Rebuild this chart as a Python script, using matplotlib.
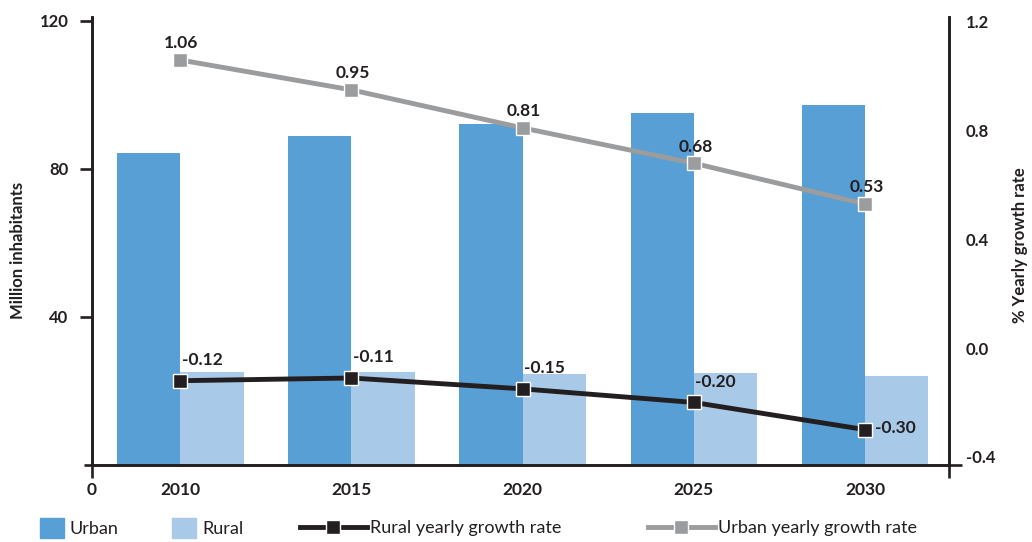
import numpy as np
import matplotlib.pyplot as plt
from matplotlib.lines import Line2D
from matplotlib.patches import Patch

plt.rcParams['font.family'] = ['Lato', 'DejaVu Sans']

years = ['2010', '2015', '2020', '2025', '2030']
urban = [84.3, 88.8, 92.0, 95.0, 97.3]
rural = [25.1, 25.0, 24.5, 24.8, 24.0]
urban_rate = [1.06, 0.95, 0.81, 0.68, 0.53]
rural_rate = [-0.12, -0.11, -0.15, -0.20, -0.30]

c_urban = '#589fd5'
c_rural = '#a8c9e7'
c_gray = '#9b9c9e'
c_dark = '#231f20'

fig = plt.figure(figsize=(10.32, 5.42), dpi=100)
ax = fig.add_axes([0.0891, 0.1421, 0.8305, 0.8265])
ax2 = ax.twinx()

x = np.arange(len(years))
w = 0.37
ax.bar(x - w / 2, urban, w, color=c_urban, zorder=2)
ax.bar(x + w / 2, rural, w, color=c_rural, zorder=2)

ax.set_xlim(-0.515, 4.49)
ax.set_ylim(0, 121)
ax2.set_ylim(-0.43, 1.218)

# spines
ax.spines['top'].set_visible(False)
ax2.spines['top'].set_visible(False)
for a in (ax, ax2):
    for s in ['left', 'right', 'bottom']:
        a.spines[s].set_color(c_dark)
        a.spines[s].set_linewidth(1.9)

# x axis: year labels, plus the "0" and the short stubs at both ends
ax.set_xticks(x)
ax.set_xticklabels(years, fontsize=12.5, fontweight='bold', color=c_dark)
ax.tick_params(axis='x', which='major', length=0, pad=12)
ax.set_xticks([-0.515, 4.49], minor=True)
ax.set_xticklabels(['0', ''], minor=True, fontsize=12.5, fontweight='bold', color=c_dark)
ax.tick_params(axis='x', which='minor', length=9, width=1.9, color=c_dark, pad=3)

# left axis
ax.set_yticks([40, 80, 120])
ax.set_yticklabels(['40', '80', '120'], fontsize=12, fontweight='bold', color=c_dark)
ax.tick_params(axis='y', which='major', length=9, width=1.9, color=c_dark, pad=8)
ax.set_yticks([0], minor=True)
ax.tick_params(axis='y', which='minor', length=6, width=1.9, color=c_dark)
ax.set_ylabel('Million inhabitants', fontsize=12, fontweight='bold', color=c_dark)
ax.yaxis.set_label_coords(-0.077, 0.48)

# right axis
ax2.set_yticks([-0.4, 0.0, 0.4, 0.8, 1.2])
ax2.set_yticklabels(['-0.4', '0.0', '0.4', '0.8', '1.2'], fontsize=12,
                    fontweight='bold', color=c_dark)
ax2.tick_params(axis='y', which='major', length=0, pad=12)
ax2.set_yticks([-0.43], minor=True)
ax2.tick_params(axis='y', which='minor', length=9, width=1.9, color=c_dark)
ax2.set_ylabel('% Yearly growth rate', fontsize=12, fontweight='bold', color=c_dark)
ax2.yaxis.set_label_coords(1.074, 0.49)

# growth rate lines
ax2.plot(x, urban_rate, color=c_gray, lw=3.5, marker='s', ms=10,
         mfc=c_gray, mec='white', mew=1, zorder=3)
ax2.plot(x, rural_rate, color=c_dark, lw=3.5, marker='s', ms=10,
         mfc=c_dark, mec='white', mew=1, zorder=3)

for xi, v in zip(x, urban_rate):
    ax2.annotate(f'{v:.2f}', (xi, v), xytext=(1, 12), textcoords='offset points',
                 ha='center', va='center', fontsize=12.5, fontweight='bold', color=c_dark)
for i, (xi, v) in enumerate(zip(x, rural_rate)):
    if i == len(x) - 1:
        ax2.annotate(f'{v:.2f}', (xi, v), xytext=(7, 1), textcoords='offset points',
                     ha='left', va='center', fontsize=12.5, fontweight='bold', color=c_dark)
    else:
        ax2.annotate(f'{v:.2f}', (xi, v), xytext=(1, 15), textcoords='offset points',
                     ha='left', va='center', fontsize=12.5, fontweight='bold', color=c_dark)

# legends along the bottom edge
bar_handles = [Patch(color=c_urban), Patch(color=c_rural)]
fig.legend(bar_handles, ['Urban', 'Rural'], loc='center left',
           bbox_to_anchor=(0.023, 0.026), ncol=2, frameon=False, fontsize=13,
           handlelength=1.33, handleheight=1.33, handletextpad=0.3,
           columnspacing=3.0, labelcolor=c_dark)
line_handles = [
    Line2D([], [], color=c_dark, lw=3.5, marker='s', ms=10, mfc=c_dark, mec='white', mew=1),
    Line2D([], [], color=c_gray, lw=3.5, marker='s', ms=10, mfc=c_gray, mec='white', mew=1),
]
fig.legend(line_handles, ['Rural yearly growth rate', 'Urban yearly growth rate'],
           loc='center left', bbox_to_anchor=(0.275, 0.026), ncol=2, frameon=False,
           fontsize=13, handlelength=3.7, handletextpad=0.17, columnspacing=4.8,
           labelcolor=c_dark)

fig.savefig('out.png', dpi=100)
